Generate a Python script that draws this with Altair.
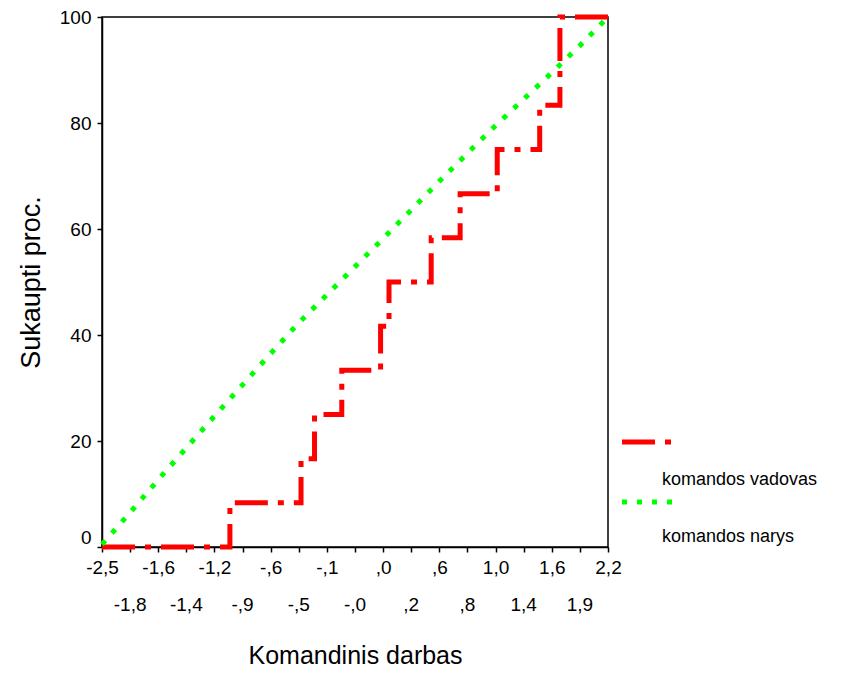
import altair as alt
import pandas as pd

# Category labels of the x axis (19 evenly spaced categories)
x_labels = ['-2,5', '-1,8', '-1,6', '-1,4', '-1,2', '-,9', '-,6', '-,5', '-,1', '-,0',
            ',0', ',2', ',6', ',8', '1,0', '1,4', '1,6', '1,9', '2,2']

# komandos vadovas: step positions (in category units) and cumulative percent
lead_x = [0, 4.55, 7.08, 7.56, 8.53, 9.91, 10.21, 11.71, 12.74, 14.06, 15.57, 16.29, 18]
lead_y = [0, 8.33, 16.67, 25.0, 33.33, 41.67, 50.0, 58.33, 66.67, 75.0, 83.33, 100, 100]

# komandos narys: cumulative percent at each category
memb_x = list(range(19))
memb_y = [0.5, 6.5, 12.7, 18.7, 24.7, 30.6, 36.5, 42.3, 47.6, 52.9, 58.2, 63.6,
          69.0, 74.3, 79.5, 84.5, 89.5, 94.6, 100]

series_names = ['komandos vadovas', 'komandos narys']

FONT = 'Liberation Sans'
W, H = 506, 530

lead_df = pd.DataFrame({'x': lead_x, 'y': lead_y})
memb_df = pd.DataFrame({'x': memb_x, 'y': memb_y})
odd_df = pd.DataFrame({'x': [i for i in range(len(x_labels)) if i % 2 == 1],
                       'lab': [l for i, l in enumerate(x_labels) if i % 2 == 1]})

arr = '[' + ','.join("'" + l + "'" for l in x_labels) + ']'
label_expr = f"datum.value % 2 == 0 ? {arr}[datum.value] : ''"

xs = alt.Scale(domain=[0, 18], nice=False, zero=False)
ys = alt.Scale(domain=[0, 100], nice=False)

xaxis = alt.Axis(values=list(range(19)), labelExpr=label_expr, grid=False,
                 tickSize=5, labelPadding=6, labelFontSize=19, labelFont=FONT,
                 titleFontSize=25, titleFont=FONT, titleFontWeight='normal',
                 titlePadding=66, labelColor='black', titleColor='black',
                 domainColor='black', tickColor='black', domainWidth=1.5, tickWidth=1.5,
                 labelOverlap=False, labelFlush=False)
yaxis = alt.Axis(values=[0, 20, 40, 60, 80, 100], grid=False, tickSize=5, labelPadding=6,
                 labelFontSize=19, labelFont=FONT, titleFontSize=27, titleFont=FONT,
                 titleFontWeight='normal', titlePadding=14, labelColor='black',
                 titleColor='black', domainColor='black', tickColor='black',
                 domainWidth=1.5, tickWidth=1.5,
                 labelBaseline={"condition": {"test": "datum.value == 0", "value": "bottom"},
                                "value": "middle"})

X = alt.X('x:Q', scale=xs, axis=xaxis, title='Komandinis darbas')
Y = alt.Y('y:Q', scale=ys, axis=yaxis, title='Sukaupti proc.')

red = alt.Chart(lead_df).mark_line(color='#ff0000', strokeWidth=5,
                                   strokeDash=[33, 10, 6, 10],
                                   interpolate='step-after').encode(x=X, y=Y)
green = alt.Chart(memb_df).mark_line(color='#00ff00', strokeWidth=5,
                                     strokeDash=[5, 10]).encode(x=X, y=Y)
odd_labels = alt.Chart(odd_df).mark_text(fontSize=19, font=FONT, baseline='middle',
                                         color='black').encode(
    x=X, y=alt.value(588), text='lab:N')

one = pd.DataFrame({'a': [0]})
leg_red = alt.Chart(one).mark_rule(color='#ff0000', strokeWidth=5,
                                   strokeDash=[33, 10, 6, 10]).encode(
    x=alt.value(520), x2=alt.value(569), y=alt.value(425))
leg_green = alt.Chart(one).mark_rule(color='#00ff00', strokeWidth=5,
                                     strokeDash=[5, 10]).encode(
    x=alt.value(520), x2=alt.value(570), y=alt.value(485))
leg_t1 = alt.Chart(one).mark_text(fontSize=18, font=FONT, align='left', baseline='middle',
                                  color='black', text=series_names[0]).encode(
    x=alt.value(560), y=alt.value(463))
leg_t2 = alt.Chart(one).mark_text(fontSize=18, font=FONT, align='left', baseline='middle',
                                  color='black', text=series_names[1]).encode(
    x=alt.value(560), y=alt.value(520))

chart = alt.layer(red, green, odd_labels, leg_red, leg_green, leg_t1, leg_t2).properties(
    width=W, height=H, autosize='none',
    padding={'left': 94, 'top': 9, 'right': 226, 'bottom': 124},
    background='white'
).configure_view(stroke='black', strokeWidth=1.5)

chart.save('out.html', embed_options={'renderer': 'svg', 'actions': False})
